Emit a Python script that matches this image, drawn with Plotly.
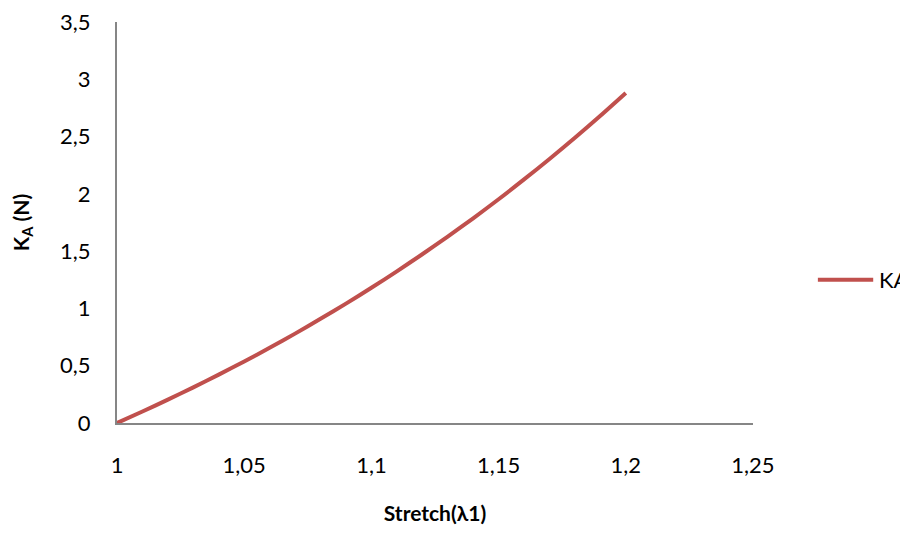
import plotly.graph_objects as go

stretch = [1.00, 1.01, 1.02, 1.03, 1.04, 1.05, 1.06, 1.07, 1.08, 1.09, 1.10,
           1.11, 1.12, 1.13, 1.14, 1.15, 1.16, 1.17, 1.18, 1.19, 1.20]
ka = [0.000, 0.100, 0.204, 0.311, 0.422, 0.537, 0.656, 0.780, 0.909, 1.042, 1.180,
      1.324, 1.473, 1.627, 1.787, 1.953, 2.126, 2.304, 2.489, 2.681, 2.880]

series_name = "KA"
series_color = "#C0504D"

x_tickvals = [1.00, 1.05, 1.10, 1.15, 1.20, 1.25]
x_ticktext = ["1", "1,05", "1,1", "1,15", "1,2", "1,25"]
y_tickvals = [0, 0.5, 1, 1.5, 2, 2.5, 3, 3.5]
y_ticktext = ["0", "0,5", "1", "1,5", "2", "2,5", "3", "3,5"]

FONT = "Lato, 'Open Sans', sans-serif"

fig = go.Figure()
fig.add_trace(go.Scatter(
    x=stretch, y=ka, mode="lines", name=series_name, showlegend=False,
    line=dict(color=series_color, width=4, shape="spline", smoothing=0.8),
))

# legend key drawn to the right of the plot (Excel-style long line sample)
fig.add_shape(type="line", xref="paper", yref="paper",
              x0=1.102, x1=1.189, y0=0.357, y1=0.357,
              line=dict(color=series_color, width=4))
fig.add_annotation(xref="paper", yref="paper", x=1.195, y=0.357,
                   xanchor="left", yanchor="middle", showarrow=False,
                   text=series_name, font=dict(size=22, color="black"))

# page body has an 8px margin; size the figure so the page does not overflow
fig.update_layout(
    width=900, height=517,
    margin=dict(l=109, r=155, t=14, b=102),
    paper_bgcolor="white", plot_bgcolor="white",
    font=dict(family=FONT, size=22, color="black"),
    showlegend=False,
    xaxis=dict(
        range=[1.0, 1.25], tickvals=x_tickvals, ticktext=x_ticktext,
        showline=True, linecolor="#868686", linewidth=2,
        showgrid=False, zeroline=False, automargin=False,
        ticks="outside", ticklen=22, tickcolor="rgba(0,0,0,0)",
        ticklabeloverflow="allow",
        title=dict(text="<b>Stretch(λ1)</b>", font=dict(size=21), standoff=38),
    ),
    yaxis=dict(
        range=[0, 3.5], tickvals=y_tickvals, ticktext=y_ticktext,
        showline=True, linecolor="#868686", linewidth=2,
        showgrid=False, zeroline=False, automargin=False,
        ticks="outside", ticklen=20, tickcolor="rgba(0,0,0,0)",
        ticklabeloverflow="allow",
        title=dict(text="<b>K<sub>A</sub> (N)</b>", font=dict(size=21), standoff=26),
    ),
)

fig.write_html("out.html")
